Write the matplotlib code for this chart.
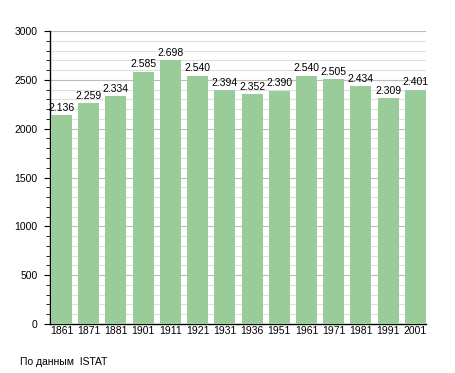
import numpy as np
import matplotlib
matplotlib.use('Agg')
import matplotlib.pyplot as plt

# census years and population
years = ['1861', '1871', '1881', '1901', '1911', '1921', '1931',
         '1936', '1951', '1961', '1971', '1981', '1991', '2001']
population = [2136, 2259, 2334, 2585, 2698, 2540, 2394,
              2352, 2390, 2540, 2505, 2434, 2309, 2401]

plt.rcParams['font.family'] = ['Liberation Sans', 'DejaVu Sans']

fig = plt.figure(figsize=(4.55, 3.73), dpi=100)
ax = fig.add_axes([50 / 455, 1 - 324 / 373, 376 / 455, 293 / 373])

x = np.arange(len(years))
ax.bar(x, population, width=0.77, color='#99cc99', zorder=3)

for xi, v in zip(x, population):
    label = '{:,}'.format(v).replace(',', '.')
    ax.text(xi, v + 25, label, ha='center', va='bottom', fontsize=7.5, zorder=4)

ax.set_xlim(-0.42, 13.39)
ax.set_ylim(0, 3000)
ax.set_xticks(x)
ax.set_xticklabels(years)
ax.set_yticks(range(0, 3001, 500))
ax.set_yticks(range(0, 3001, 100), minor=True)

ax.grid(axis='y', which='minor', color='#e0e0e0', linewidth=0.8, zorder=0)
ax.grid(axis='y', which='major', color='#bbbbbb', linewidth=0.8, zorder=0)

for s in ['top', 'right']:
    ax.spines[s].set_visible(False)
ax.spines['left'].set_linewidth(1.0)
ax.spines['bottom'].set_linewidth(1.0)

ax.tick_params(axis='x', length=0, labelsize=7.5, pad=1.5)
ax.tick_params(axis='y', which='major', length=4, labelsize=7.5, pad=5)
ax.tick_params(axis='y', which='minor', length=3)

fig.text(20 / 455, 1 - 362 / 373, 'По данным  ISTAT', fontsize=7.5, va='center')

fig.savefig('out.png', dpi=100)
